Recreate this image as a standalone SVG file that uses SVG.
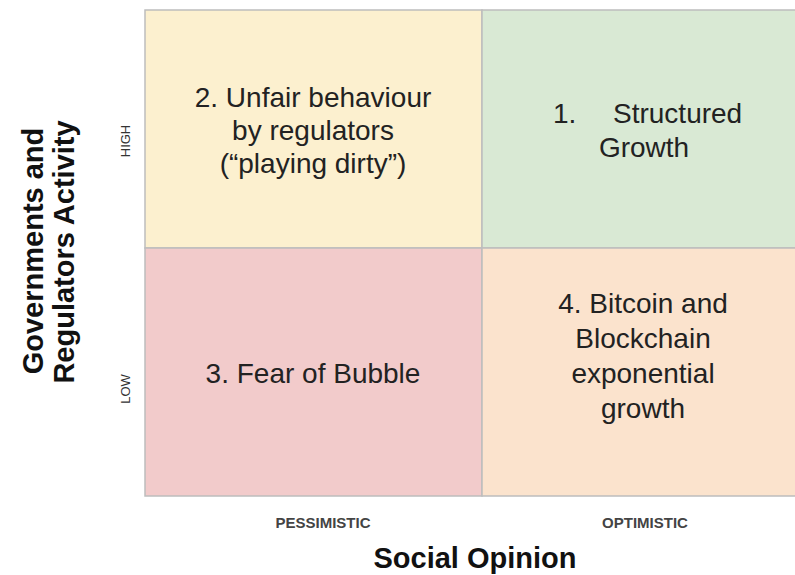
<svg xmlns="http://www.w3.org/2000/svg" width="795" height="575" viewBox="0 0 795 575">
<style>
.cell{stroke:#bdbdbd;stroke-width:1.5}
.t{font-family:"Liberation Sans",Arial,sans-serif;font-size:28px;fill:#222;text-anchor:middle}
.ts{font-family:"Liberation Sans",Arial,sans-serif;font-size:28px;fill:#222;text-anchor:start}
.ax{font-family:"Liberation Sans",Arial,sans-serif;font-size:29px;font-weight:bold;fill:#111;text-anchor:middle}
.sm{font-family:"Liberation Sans",Arial,sans-serif;font-size:13px;fill:#333;text-anchor:middle}
.lb{font-family:"Liberation Sans",Arial,sans-serif;font-size:15px;font-weight:bold;fill:#444;text-anchor:middle}
</style>
<rect width="795" height="575" fill="#ffffff"/>
<g id="q2"><rect class="cell" x="145" y="10" width="337" height="238" fill="#fcf0cf"/>
<text class="t" x="313" y="107">2. Unfair behaviour</text>
<text class="t" x="313" y="140">by regulators</text>
<text class="t" x="313" y="173">(“playing dirty”)</text></g>
<g id="q1"><rect class="cell" x="482" y="10" width="320" height="238" fill="#d9e9d4"/>
<text class="ts" x="553" y="123">1.</text>
<text class="ts" x="613" y="123">Structured</text>
<text class="t" x="644" y="157">Growth</text></g>
<g id="q3"><rect class="cell" x="145" y="248" width="337" height="248" fill="#f2cbcb"/>
<text class="t" x="313" y="383">3. Fear of Bubble</text></g>
<g id="q4"><rect class="cell" x="482" y="248" width="320" height="248" fill="#fbe3cd"/>
<text class="t" x="643" y="313">4. Bitcoin and</text>
<text class="t" x="643" y="348">Blockchain</text>
<text class="t" x="643" y="383">exponential</text>
<text class="t" x="643" y="418">growth</text></g>
<g id="axes">
<text class="ax" transform="translate(43,251) rotate(-90)">Governments and</text>
<text class="ax" transform="translate(74,252) rotate(-90)">Regulators Activity</text>
<text class="sm" transform="translate(130,141) rotate(-90)">HIGH</text>
<text class="sm" transform="translate(130,389) rotate(-90)">LOW</text>
<text class="lb" x="323" y="528">PESSIMISTIC</text>
<text class="lb" x="645" y="528">OPTIMISTIC</text>
<text class="ax" x="475" y="568">Social Opinion</text>
</g>
<g id="connectors"></g>
</svg>
